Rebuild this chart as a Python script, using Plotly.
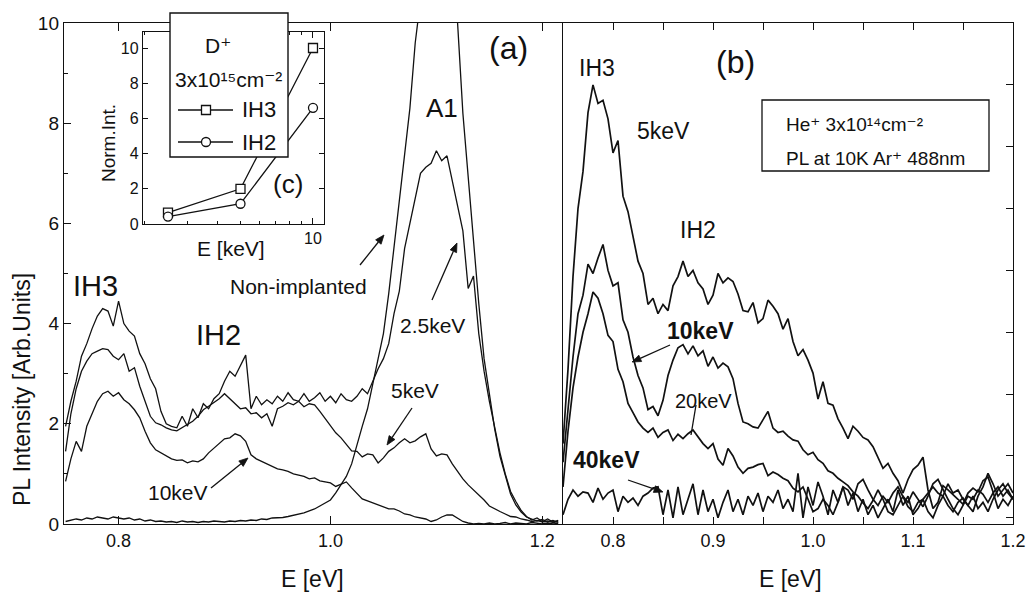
import math
import plotly.graph_objects as go

W, H = 1031, 593
FONT = "Liberation Sans, Arial, DejaVu Sans, sans-serif"
INK = "#111111"

# ---------------- data: panel (a), D+ implanted ----------------
E_a = [0.750, 0.755, 0.760, 0.765, 0.770, 0.775, 0.780, 0.785, 0.790, 0.795,
       0.800, 0.805, 0.810, 0.815, 0.820, 0.825, 0.830, 0.835, 0.840, 0.845,
       0.850, 0.855, 0.860, 0.865, 0.870, 0.875, 0.880, 0.885, 0.890, 0.895,
       0.900, 0.905, 0.910, 0.915, 0.920, 0.925, 0.930, 0.935, 0.940, 0.945,
       0.950, 0.955, 0.960, 0.965, 0.970, 0.975, 0.980, 0.985, 0.990, 0.995,
       1.000, 1.005, 1.010, 1.015, 1.020, 1.025, 1.030, 1.035, 1.040, 1.045,
       1.050, 1.055, 1.060, 1.065, 1.070, 1.075, 1.080, 1.085, 1.090, 1.095,
       1.100, 1.105, 1.110, 1.115, 1.120, 1.125, 1.130, 1.135, 1.140, 1.145,
       1.150, 1.155, 1.160, 1.165, 1.170, 1.175, 1.180, 1.185, 1.190, 1.195,
       1.200, 1.205, 1.210, 1.215]

nonimpl_a = [0.05, 0.08, 0.10, 0.08, 0.12, 0.10, 0.14, 0.12, 0.10, 0.14,
             0.12, 0.10, 0.12, 0.08, 0.10, 0.06, 0.08, 0.05, 0.06, 0.04,
             0.05, 0.03, 0.06, 0.04, 0.05, 0.03, 0.05, 0.04, 0.06, 0.05,
             0.04, 0.06, 0.05, 0.07, 0.06, 0.08, 0.07, 0.10, 0.09, 0.12,
             0.12, 0.13, 0.15, 0.17, 0.19, 0.22, 0.26, 0.30, 0.36, 0.42,
             0.48, 0.62, 0.78, 0.95, 1.20, 1.60, 1.95, 2.30, 2.80, 3.30,
             3.80, 4.60, 5.50, 6.40, 7.40, 8.30, 9.60, 10.6, 11.5, 12.2,
             12.5, 12.4, 11.9, 11.0, 10.0, 8.20, 6.90, 5.60, 4.40, 3.30,
             2.55, 1.90, 1.35, 0.95, 0.60, 0.38, 0.24, 0.14, 0.10, 0.06,
             0.09, 0.04, 0.07, 0.03]

kev2p5_a = [1.95, 2.45, 2.85, 3.35, 3.60, 3.90, 4.15, 4.30, 4.25, 3.95,
            4.45, 4.00, 3.85, 3.75, 3.40, 3.20, 2.90, 2.70, 2.25, 2.00,
            1.95, 1.92, 2.15, 1.95, 2.30, 2.12, 2.40, 2.30, 2.50, 2.60,
            2.85, 3.05, 2.95, 3.15, 3.37, 2.30, 2.55, 2.38, 2.48, 2.40,
            2.55, 2.45, 2.62, 2.48, 2.45, 2.60, 2.45, 2.52, 2.62, 2.45,
            2.55, 2.42, 2.60, 2.48, 2.45, 2.55, 2.70, 2.60, 2.85, 3.10,
            3.30, 3.60, 4.20, 4.65, 5.50, 6.00, 6.55, 7.00, 7.12, 7.20,
            7.45, 7.25, 7.35, 6.85, 6.40, 5.85, 4.70, 4.95, 3.80, 3.05,
            2.45, 1.90, 1.42, 1.00, 0.65, 0.45, 0.27, 0.15, 0.08, 0.12,
            0.05, 0.10, 0.04, 0.07]

kev5_a = [1.45, 2.20, 2.70, 3.05, 3.25, 3.40, 3.45, 3.50, 3.48, 3.35,
          3.28, 3.40, 3.05, 3.12, 2.75, 2.45, 2.15, 2.02, 1.98, 1.92,
          1.88, 1.86, 1.92, 1.98, 2.05, 2.15, 2.28, 2.35, 2.42, 2.50,
          2.60, 2.50, 2.40, 2.30, 2.32, 2.20, 2.22, 2.12, 2.20, 1.95,
          2.30, 2.35, 2.42, 2.38, 2.45, 2.34, 2.40, 2.38, 2.25, 2.10,
          1.95, 1.82, 1.72, 1.58, 1.46, 1.45, 1.34, 1.40, 1.38, 1.22,
          1.32, 1.45, 1.52, 1.62, 1.70, 1.62, 1.66, 1.74, 1.80, 1.50,
          1.36, 1.40, 1.38, 1.20, 1.05, 0.90, 0.78, 0.68, 0.60, 0.48,
          0.36, 0.30, 0.25, 0.20, 0.15, 0.14, 0.10, 0.08, 0.05, 0.07,
          0.04, 0.06, 0.03, 0.05]

kev10_a = [0.85, 1.30, 1.65, 1.45, 1.95, 2.20, 2.45, 2.60, 2.65, 2.55,
           2.62, 2.48, 2.40, 2.28, 2.12, 1.85, 1.62, 1.48, 1.42, 1.36,
           1.30, 1.27, 1.28, 1.22, 1.26, 1.24, 1.30, 1.42, 1.52, 1.60,
           1.70, 1.72, 1.80, 1.76, 1.65, 1.38, 1.30, 1.25, 1.20, 1.15,
           1.10, 1.08, 1.05, 1.00, 0.98, 0.95, 0.90, 0.92, 0.86, 0.84,
           0.82, 0.75, 0.80, 0.84, 0.72, 0.62, 0.50, 0.46, 0.42, 0.38,
           0.34, 0.30, 0.30, 0.26, 0.20, 0.18, 0.14, 0.12, 0.10, 0.05,
           0.08, 0.14, 0.18, 0.18, 0.12, 0.05, 0.02, 0.00, 0.01, 0.00,
           0.02, 0.00, 0.01, 0.03, 0.00, 0.02, 0.01, 0.00, 0.03, 0.01,
           0.00, 0.02, 0.00, 0.01]

# ---------------- data: panel (b), He+ implanted ----------------
E_b = [0.750, 0.755, 0.760, 0.765, 0.770, 0.775, 0.780, 0.785, 0.790, 0.795,
       0.800, 0.805, 0.810, 0.815, 0.820, 0.825, 0.830, 0.835, 0.840, 0.845,
       0.850, 0.855, 0.860, 0.865, 0.870, 0.875, 0.880, 0.885, 0.890, 0.895,
       0.900, 0.905, 0.910, 0.915, 0.920, 0.925, 0.930, 0.935, 0.940, 0.945,
       0.950, 0.955, 0.960, 0.965, 0.970, 0.975, 0.980, 0.985, 0.990, 0.995,
       1.000, 1.005, 1.010, 1.015, 1.020, 1.025, 1.030, 1.035, 1.040, 1.045,
       1.050, 1.055, 1.060, 1.065, 1.070, 1.075, 1.080, 1.085, 1.090, 1.095,
       1.100, 1.105, 1.110, 1.115, 1.120, 1.125, 1.130, 1.135, 1.140, 1.145,
       1.150, 1.155, 1.160, 1.165, 1.170, 1.175, 1.180, 1.185, 1.190, 1.195,
       1.200]

kev5_b = [1.20, 2.40, 3.90, 5.00, 5.60, 6.55, 7.00, 6.70, 6.75, 6.45,
          5.90, 6.10, 5.20, 4.95, 4.55, 4.15, 3.95, 3.45, 3.55, 3.30,
          3.45, 3.35, 3.75, 3.90, 4.15, 3.90, 4.00, 3.80, 3.70, 3.45,
          3.60, 3.95, 3.80, 3.88, 3.82, 3.62, 3.35, 3.33, 3.48, 3.15,
          3.22, 3.52, 3.42, 3.30, 3.05, 3.22, 2.85, 2.62, 2.72, 2.55,
          2.34, 1.92, 2.20, 1.85, 1.82, 1.60, 1.45, 1.28, 1.48, 1.40,
          1.30, 1.26, 1.15, 0.96, 0.80, 0.88, 0.72, 0.60, 0.40, 0.62,
          0.78, 0.85, 0.98, 0.45, 0.15, 0.25, 0.52, 0.45, 0.38, 0.30,
          0.22, 0.40, 0.48, 0.42, 0.60, 0.66, 0.42, 0.15, 0.30, 0.20,
          0.35]

kev10_b = [0.90, 1.80, 2.60, 3.30, 3.60, 4.10, 3.95, 4.20, 4.42, 4.00,
           3.75, 3.80, 3.20, 3.00, 2.60, 2.30, 2.10, 1.75, 1.80, 1.65,
           1.90, 2.30, 2.55, 2.75, 2.80, 2.65, 2.78, 2.62, 2.70, 2.45,
           2.60, 2.42, 2.50, 2.44, 2.25, 1.85, 1.55, 1.52, 1.47, 1.45,
           1.58, 1.72, 1.45, 1.38, 1.40, 1.32, 1.26, 1.24, 1.10, 1.02,
           1.06, 0.94, 0.88, 0.76, 0.72, 0.64, 0.58, 0.52, 0.42, 0.35,
           0.24, 0.15, 0.28, 0.45, 0.30, 0.10, 0.05, 0.20, 0.35, 0.25,
           0.42, 0.30, 0.18, 0.35, 0.55, 0.62, 0.45, 0.30, 0.15, 0.05,
           0.20, 0.35, 0.30, 0.45, 0.38, 0.25, 0.40, 0.50, 0.35, 0.45,
           0.30]

kev20_b = [0.50, 1.40, 2.10, 2.60, 3.00, 3.30, 3.65, 3.55, 3.30, 2.95,
           2.85, 2.40, 2.20, 1.85, 1.70, 1.55, 1.45, 1.38, 1.45, 1.30,
           1.38, 1.42, 1.25, 1.35, 1.28, 1.36, 1.42, 1.30, 1.20, 1.12,
           1.20, 0.95, 0.85, 1.12, 1.00, 0.82, 0.72, 0.80, 0.82, 0.86,
           0.88, 0.68, 0.74, 0.70, 0.64, 0.60, 0.48, 0.42, 0.50, 0.30,
           0.10, 0.15, 0.30, 0.20, 0.05, 0.25, 0.50, 0.45, 0.30, 0.55,
           0.62, 0.45, 0.30, 0.20, 0.35, 0.25, 0.40, 0.50, 0.35, 0.18,
           0.10, 0.25, 0.30, 0.40, 0.50, 0.40, 0.35, 0.20, 0.10, 0.25,
           0.32, 0.20, 0.10, 0.35, 0.50, 0.72, 0.55, 0.35, 0.45, 0.55,
           0.40]

kev40_b = [0.05, 0.30, 0.45, 0.35, 0.42, 0.40, 0.25, 0.48, 0.30, 0.40,
           0.45, 0.10, 0.35, 0.25, 0.32, 0.20, 0.35, 0.40, 0.48, 0.50,
           0.05, 0.45, 0.00, 0.50, 0.05, 0.30, 0.55, 0.05, 0.45, 0.10,
           0.30, 0.00, 0.25, 0.45, 0.10, 0.30, 0.05, 0.35, 0.20, 0.40,
           0.10, 0.35, 0.25, 0.45, 0.15, 0.30, 0.10, 0.72, 0.00, 0.50,
           0.20, 0.58, 0.35, 0.05, 0.45, 0.25, 0.50, 0.20, 0.40, 0.10,
           0.30, 0.05, 0.20, 0.00, 0.15, 0.30, 0.10, 0.45, 0.20, 0.35,
           0.05, 0.15, 0.30, 0.10, 0.00, 0.20, 0.35, 0.55, 0.40, 0.45,
           0.30, 0.20, 0.35, 0.15, 0.25, 0.10, 0.30, 0.45, 0.55, 0.40,
           0.30]

# ---------------- data: inset (c) ----------------
inset_E = [2.5, 5, 10]
inset_IH3 = [0.65, 2.0, 10.0]
inset_IH2 = [0.42, 1.15, 6.6]

# ---------------- ticks ----------------
xa_tickvals = [0.8, 1.0, 1.2]
xa_ticktext = ["0.8", "1.0", "1.2"]
ya_tickvals = [0, 2, 4, 6, 8, 10]
ya_minor = [1, 3, 5, 7, 9]
xb_tickvals = [0.8, 0.9, 1.0, 1.1, 1.2]
xb_ticktext = ["0.8", "0.9", "1.0", "1.1", "1.2"]
xb_minor = [0.85, 0.95, 1.05, 1.15]
yb_tickvals = [0, 1, 2, 3, 4, 5, 6, 7, 8]
xc_tickvals = [10]
xc_ticktext = ["10"]
xc_minor = [2, 3, 4, 5, 6, 7, 8, 9]
yc_tickvals = [0, 2, 4, 6, 8, 10]


def px(x):
    return x / W


def py(y):
    return 1 - y / H


fig = go.Figure()

line_a = dict(color=INK, width=1.3)
for ys in [nonimpl_a, kev2p5_a, kev5_a, kev10_a]:
    fig.add_trace(go.Scatter(x=E_a, y=ys, mode="lines", line=line_a,
                             xaxis="x", yaxis="y", showlegend=False, hoverinfo="skip"))

line_b = dict(color=INK, width=1.7)
for ys in [kev5_b, kev10_b, kev20_b, kev40_b]:
    fig.add_trace(go.Scatter(x=E_b, y=ys, mode="lines", line=line_b,
                             xaxis="x2", yaxis="y2", showlegend=False, hoverinfo="skip"))

fig.add_trace(go.Scatter(x=inset_E, y=inset_IH3, mode="lines+markers",
                         line=dict(color=INK, width=1.3),
                         marker=dict(symbol="square", size=9, color="white",
                                     line=dict(color=INK, width=1.3)),
                         xaxis="x3", yaxis="y3", showlegend=False, hoverinfo="skip"))
fig.add_trace(go.Scatter(x=inset_E, y=inset_IH2, mode="lines+markers",
                         line=dict(color=INK, width=1.3),
                         marker=dict(symbol="circle", size=9, color="white",
                                     line=dict(color=INK, width=1.3)),
                         xaxis="x3", yaxis="y3", showlegend=False, hoverinfo="skip"))

axis_common = dict(showline=True, linecolor=INK, linewidth=1.4, showgrid=False,
                   zeroline=False, ticks="inside", tickcolor=INK, tickwidth=1.3,
                   automargin=False)
tickfont = dict(family=FONT, size=18, color=INK)

fig.update_layout(
    template="none",
    width=W, height=H,
    margin=dict(l=0, r=0, t=0, b=0, pad=0, autoexpand=False),
    paper_bgcolor="white", plot_bgcolor="white",
    font=dict(family=FONT, color=INK),
    xaxis=dict(domain=[px(64), px(563)], range=[0.7485, 1.2195], anchor="y",
               tickvals=xa_tickvals, ticktext=xa_ticktext, ticklen=8,
               mirror="ticks", tickfont=tickfont, **axis_common),
    yaxis=dict(domain=[py(524), py(23)], range=[0, 10], anchor="x",
               tickvals=ya_tickvals, ticklen=7, mirror=False,
               minor=dict(tickvals=ya_minor, ticks="inside", ticklen=4, tickcolor=INK),
               tickfont=dict(family=FONT, size=19, color=INK), **axis_common),
    xaxis2=dict(domain=[px(563), px(1013)], range=[0.75, 1.2], anchor="y2",
                tickvals=xb_tickvals, ticktext=xb_ticktext, ticklen=7,
                minor=dict(tickvals=xb_minor, ticks="inside", ticklen=7, tickcolor=INK),
                mirror="ticks", tickfont=tickfont, **axis_common),
    yaxis2=dict(domain=[py(524), py(23)], range=[-0.1, 8], anchor="x2", side="right",
                tickvals=yb_tickvals, showticklabels=False, ticklen=7, mirror=True,
                **axis_common),
    xaxis3=dict(type="log", domain=[px(143), px(324)], range=[0.2942, 1.0457], anchor="y3",
                tickvals=xc_tickvals, ticktext=xc_ticktext, ticklen=6, mirror="ticks",
                minor=dict(tickvals=xc_minor, ticks="inside", ticklen=3, tickcolor=INK),
                tickfont=dict(family=FONT, size=16, color=INK), **axis_common),
    yaxis3=dict(domain=[py(224), py(32)], range=[0, 10.91], anchor="x3",
                tickvals=yc_tickvals, ticklen=5, mirror="ticks",
                tickfont=dict(family=FONT, size=16, color=INK), **axis_common),
)

ann = []
shapes = []


def text(s, x, y, size, xanchor="center", angle=0, bold=False):
    if bold:
        s = "<b>" + s + "</b>"
    ann.append(dict(text=s, x=px(x), y=py(y), xref="paper", yref="paper",
                    showarrow=False, xanchor=xanchor, yanchor="middle", textangle=angle,
                    font=dict(family=FONT, size=size, color=INK)))


def arrow(hx, hy, tx, ty, head=True):
    # arrow drawn as a line plus a filled triangular head (pixel -> paper units)
    L = math.hypot(hx - tx, hy - ty)
    ux, uy = (hx - tx) / L, (hy - ty) / L
    hl, hw = (9.0, 3.5) if head else (0.0, 0.0)
    bx, by = hx - hl * ux, hy - hl * uy
    shapes.append(dict(type="line", xref="paper", yref="paper",
                       x0=px(tx), y0=py(ty), x1=px(bx), y1=py(by),
                       line=dict(color=INK, width=1.3), layer="above"))
    if head:
        p1 = (bx - hw * uy, by + hw * ux)
        p2 = (bx + hw * uy, by - hw * ux)
        path = "M {:.5f},{:.5f} L {:.5f},{:.5f} L {:.5f},{:.5f} Z".format(
            px(hx), py(hy), px(p1[0]), py(p1[1]), px(p2[0]), py(p2[1]))
        shapes.append(dict(type="path", xref="paper", yref="paper", path=path,
                           fillcolor=INK, line=dict(color=INK, width=0.8), layer="above"))


# axis titles
text("PL Intensity [Arb.Units]", 22, 390, 23, angle=-90)
text("E [eV]", 312, 579, 23)
text("E [eV]", 790, 579, 23)

# panel (a) labels
text("(a)", 508, 48, 32)
text("A1", 442, 108, 26)
text("IH3", 95, 286, 29)
text("IH2", 218, 335, 29)
text("Non-implanted", 298, 287, 21)
text("2.5keV", 432, 325, 21)
text("5keV", 415, 390, 21)
text("10keV", 178, 492, 21)
arrow(384, 235, 360, 265)
arrow(457, 243, 432, 300)
arrow(387, 445, 412, 408)
arrow(248, 458, 211, 488)

# panel (b) labels
text("IH3", 597, 68, 23)
text("(b)", 735, 62, 32)
text("5keV", 663, 131, 23)
text("IH2", 698, 230, 23)
text("10keV", 700, 331, 23, bold=True)
text("20keV", 703, 401, 20)
text("40keV", 606, 460, 23, bold=True)
arrow(632, 362, 670, 345)
arrow(691, 435, 696, 405, head=False)
arrow(663, 492, 628, 480)

# He+ info box text
text("He\u207a 3x10\u00b9\u2074cm\u207b\u00b2", 784, 125, 19, xanchor="left")
text("PL at 10K Ar\u207a 488nm", 784, 158, 19, xanchor="left")

# inset (c)
text("(c)", 288, 184, 26)
text("Norm.Int.", 108, 143, 19, angle=-90)
text("E [keV]", 231, 249, 21)

# inset legend box content
text("D\u207a", 218, 45, 21)
text("3x10\u00b9\u2075cm\u207b\u00b2", 228, 80, 21)
text("IH3", 240, 110, 22, xanchor="left")
text("IH2", 240, 142, 22, xanchor="left")

shapes += [
    # legend box of inset
    dict(type="rect", xref="paper", yref="paper", x0=px(170), x1=px(288), y0=py(157), y1=py(13),
         fillcolor="white", line=dict(color=INK, width=1.4), layer="above"),
    dict(type="line", xref="paper", yref="paper", x0=px(178), x1=px(233), y0=py(110), y1=py(110),
         line=dict(color=INK, width=1.3), layer="above"),
    dict(type="rect", xref="paper", yref="paper", x0=px(201.5), x1=px(210.5), y0=py(114.5), y1=py(105.5),
         fillcolor="white", line=dict(color=INK, width=1.3), layer="above"),
    dict(type="line", xref="paper", yref="paper", x0=px(178), x1=px(233), y0=py(142), y1=py(142),
         line=dict(color=INK, width=1.3), layer="above"),
    dict(type="circle", xref="paper", yref="paper", x0=px(201.5), x1=px(210.5), y0=py(146.5), y1=py(137.5),
         fillcolor="white", line=dict(color=INK, width=1.3), layer="above"),
    # He+ info box
    dict(type="rect", xref="paper", yref="paper", x0=px(762), x1=px(989), y0=py(171), y1=py(100),
         fillcolor="rgba(0,0,0,0)", line=dict(color=INK, width=1.3), layer="above"),
]

fig.update_layout(annotations=ann, shapes=shapes)

fig.write_html("out.html")
